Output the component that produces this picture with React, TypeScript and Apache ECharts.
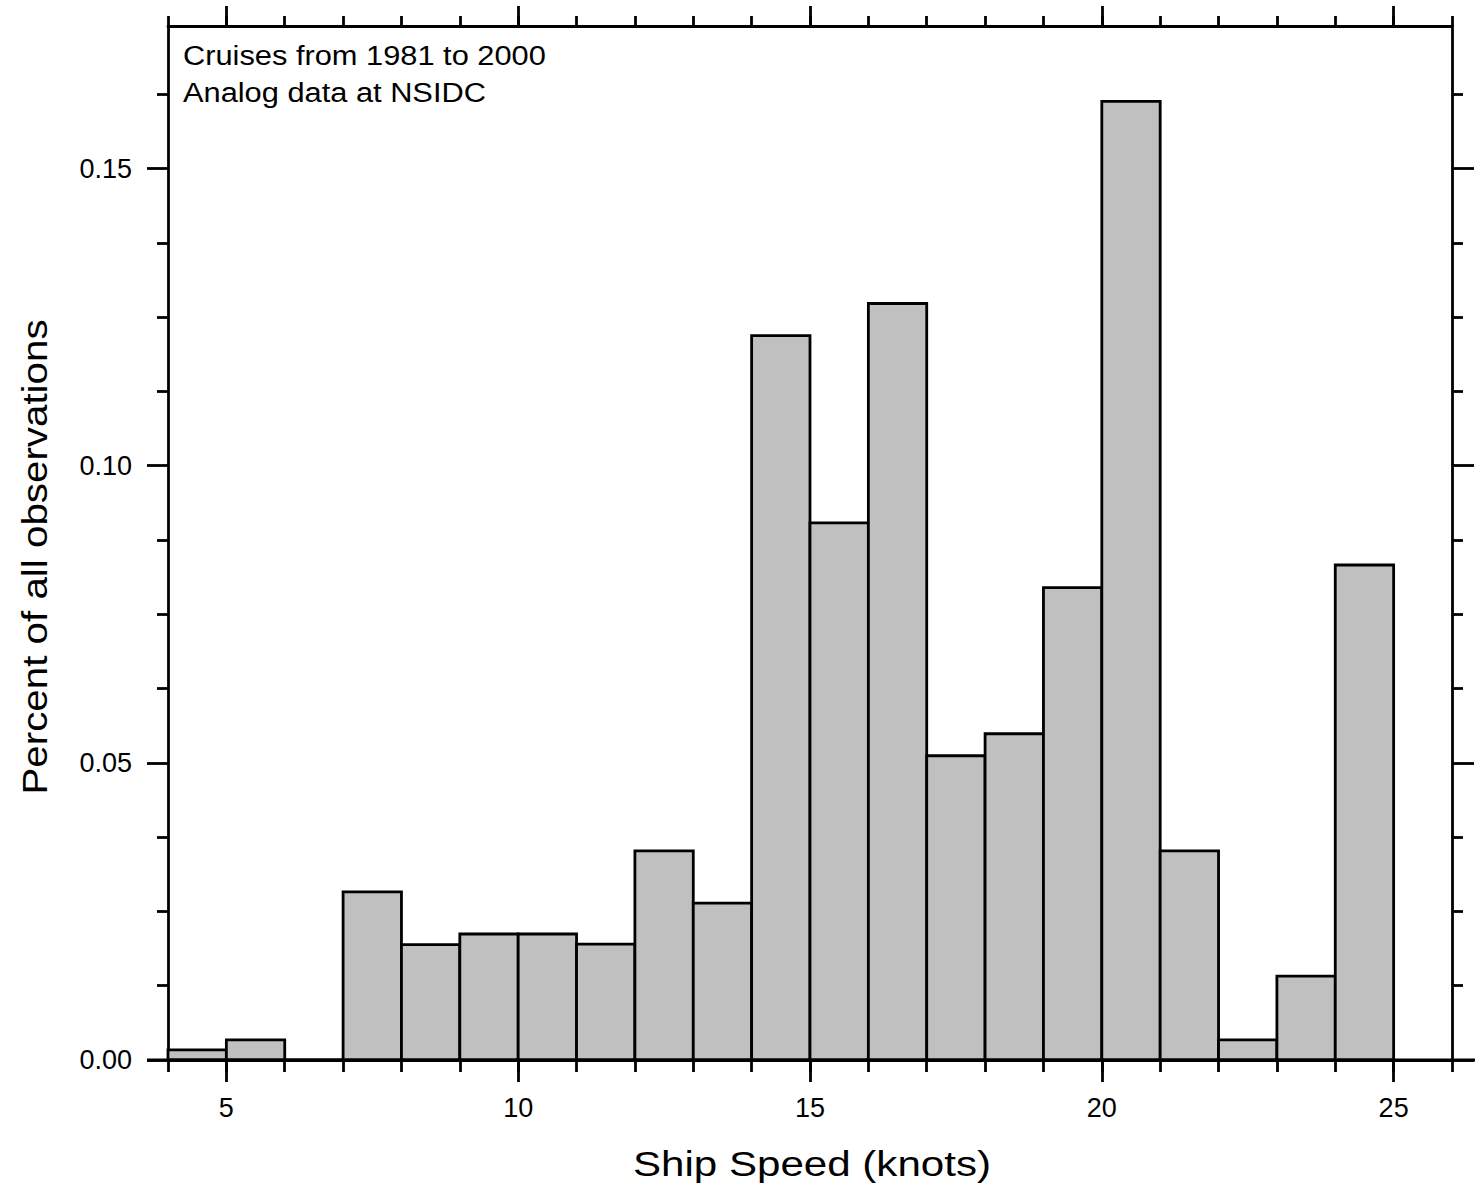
import React, { useEffect, useRef } from "react";
import * as echarts from "echarts";

// ---- data ----
const binStarts = [4, 5, 6, 7, 8, 9, 10, 11, 12, 13, 14, 15, 16, 17, 18, 19, 20, 21, 22, 23, 24];
const binWidth = 1;
const binValues = [
  0.0017, 0.0034, 0, 0.0283, 0.0194, 0.0212, 0.0212, 0.0195, 0.0352, 0.0264,
  0.1219, 0.0904, 0.1273, 0.0512, 0.0549, 0.0795, 0.1613, 0.0352, 0.0034, 0.0141, 0.0833,
];
const xMajorTicks = [5, 10, 15, 20, 25];
const xMinorTicks = [4, 5, 6, 7, 8, 9, 10, 11, 12, 13, 14, 15, 16, 17, 18, 19, 20, 21, 22, 23, 24, 25, 26];
const yMajorTicks = [0, 0.05, 0.1, 0.15];
const yMinorTicks = [0.0125, 0.025, 0.0375, 0.0625, 0.075, 0.0875, 0.1125, 0.125, 0.1375, 0.1625];
const xMin = 4;
const xMax = 26;
const yMin = 0;
const yMax = 0.174;
const annotationLines = ["Cruises from 1981 to 2000", "Analog data at NSIDC"];
const xTitle = "Ship Speed (knots)";
const yTitle = "Percent of all observations";

const FONT = "'Liberation Sans', Arial, sans-serif";
const LW = 2.8;

export default function App() {
  const ref = useRef<HTMLDivElement>(null);
  useEffect(() => {
    if (!ref.current) return;
    const chart = echarts.init(ref.current, undefined, { renderer: "svg" });
    const line = { color: "#000", width: LW };
    const makeX = (position: string, ticks: number[], len: number, labels: boolean, axisLine: boolean) => ({
      type: "value",
      position,
      min: xMin,
      max: xMax,
      axisLine: { show: axisLine, onZero: false, lineStyle: line },
      axisTick: { show: true, inside: false, length: len, customValues: ticks, lineStyle: line },
      axisLabel: labels
        ? { show: true, customValues: ticks, margin: 34, fontSize: 27, color: "#000", fontFamily: FONT }
        : { show: false },
      splitLine: { show: false },
    });
    const makeY = (position: string, ticks: number[], len: number, labels: boolean, axisLine: boolean) => ({
      type: "value",
      position,
      min: yMin,
      max: yMax,
      axisLine: { show: axisLine, onZero: false, lineStyle: line },
      axisTick: { show: true, inside: false, length: len, customValues: ticks, lineStyle: line },
      axisLabel: labels
        ? {
            show: true,
            customValues: ticks,
            margin: 36,
            fontSize: 27,
            color: "#000",
            fontFamily: FONT,
            formatter: (v: number) => v.toFixed(2),
          }
        : { show: false },
      splitLine: { show: false },
    });

    const data = binStarts.map((s, i) => [s, s + binWidth, binValues[i]]);

    chart.setOption({
      animation: false,
      backgroundColor: "#fff",
      grid: { left: 168, right: 28, top: 26, bottom: 133, containLabel: false, outerBoundsMode: "none" },
      xAxis: [
        makeX("bottom", xMajorTicks, 22, true, true),
        makeX("bottom", xMinorTicks, 12, false, false),
        makeX("top", xMajorTicks, 20, false, true),
        makeX("top", xMinorTicks, 10, false, false),
      ],
      yAxis: [
        makeY("left", yMajorTicks, 21, true, true),
        makeY("left", yMinorTicks, 11, false, false),
        makeY("right", yMajorTicks, 22, false, true),
        makeY("right", yMinorTicks, 11, false, false),
      ],
      series: [
        {
          type: "custom",
          xAxisIndex: 0,
          yAxisIndex: 0,
          encode: { x: [0, 1], y: 2 },
          data,
          renderItem: (params: any, api: any) => {
            const x0 = api.value(0);
            const x1 = api.value(1);
            const v = api.value(2);
            const p0 = api.coord([x0, v]);
            const p1 = api.coord([x1, 0]);
            return {
              type: "rect",
              shape: { x: p0[0], y: p0[1], width: p1[0] - p0[0], height: p1[1] - p0[1] },
              style: { fill: "#c0c0c0", stroke: "#000", lineWidth: LW },
            };
          },
        },
      ],
      graphic: [
        {
          type: "line",
          shape: { x1: 147, y1: 1060, x2: 1475, y2: 1060 },
          style: { stroke: "#000", lineWidth: LW },
          z: 10,
        },
        {
          type: "text",
          x: 183,
          y: 55,
          scaleX: 1.1,
          style: {
            text: annotationLines[0],
            fontSize: 28,
            fontFamily: FONT,
            fill: "#000",
            align: "left",
            verticalAlign: "middle",
          },
        },
        {
          type: "text",
          x: 183,
          y: 92,
          scaleX: 1.1,
          style: {
            text: annotationLines[1],
            fontSize: 28,
            fontFamily: FONT,
            fill: "#000",
            align: "left",
            verticalAlign: "middle",
          },
        },
        {
          type: "text",
          x: 812,
          y: 1164,
          scaleX: 1.17,
          style: {
            text: xTitle,
            fontSize: 36,
            fontFamily: FONT,
            fill: "#000",
            align: "center",
            verticalAlign: "middle",
          },
        },
        {
          type: "text",
          x: 34,
          y: 557,
          rotation: Math.PI / 2,
          scaleX: 1.12,
          style: {
            text: yTitle,
            fontSize: 36,
            fontFamily: FONT,
            fill: "#000",
            align: "center",
            verticalAlign: "middle",
          },
        },
      ],
    });
    return () => chart.dispose();
  }, []);
  return (
    <div
      ref={ref}
      style={{ position: "fixed", left: 0, top: 0, width: 1480, height: 1193, background: "#fff" }}
    />
  );
}
